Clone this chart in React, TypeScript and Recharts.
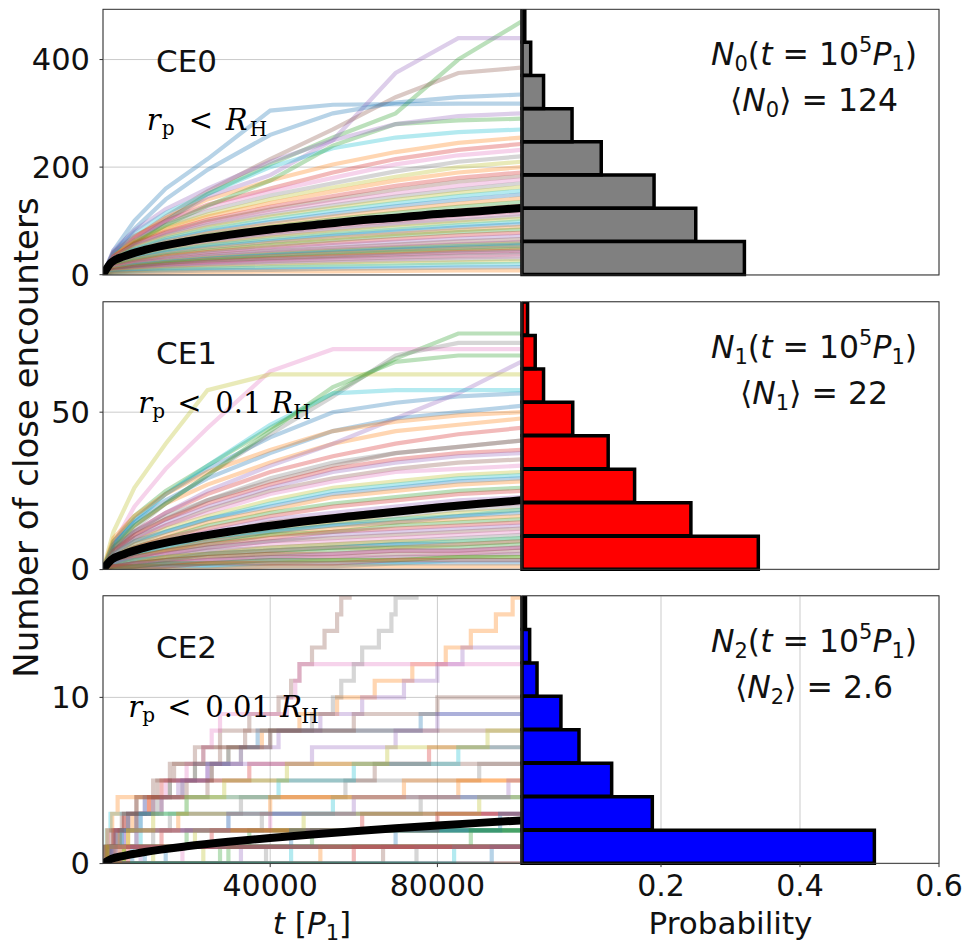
import React from "react";
import {
  LineChart,
  Line,
  BarChart,
  Bar,
  XAxis,
  YAxis,
  CartesianGrid,
} from "recharts";

const FONT = "DejaVu Sans";
const SERIF = "DejaVu Serif";

const TAB10 = [
  "#1f77b4", "#ff7f0e", "#2ca02c", "#d62728", "#9467bd",
  "#8c564b", "#e377c2", "#7f7f7f", "#bcbd22", "#17becf",
];

// sample times of the CE0 / CE1 tracks (every track starts at 0 encounters at t = 0)
const T_GRID = [2500, 7500, 15000, 25000, 40000, 55000, 70000, 85000, 100000];
// sample times of the ensemble-mean curves
const T_MEAN = [0, 2000, 5000, 10000, 20000, 30000, 40000, 50000, 60000, 70000, 80000, 90000, 100000];

// CE0: r_p < R_H, cumulative encounters of each run at T_GRID
const CE0_TRACKS = [
  [45, 100, 160, 215, 305, 316, 317, 318, 318],
  [40, 70, 105, 140, 175, 205, 228, 245, 255],
  [30, 60, 100, 150, 205, 255, 300, 400, 470],
  [42, 72, 100, 130, 160, 190, 215, 232, 243],
  [30, 62, 100, 145, 185, 250, 375, 440, 440],
  [35, 68, 108, 155, 215, 270, 330, 375, 385],
  [40, 68, 98, 125, 155, 180, 205, 222, 232],
  [38, 64, 92, 118, 147, 170, 192, 210, 220],
  [36, 62, 88, 112, 140, 162, 182, 200, 210],
  [42, 78, 115, 150, 200, 235, 255, 265, 270],
  [40, 85, 140, 195, 260, 300, 320, 330, 335],
  [35, 60, 85, 108, 133, 155, 175, 190, 200],
  [30, 58, 92, 128, 175, 240, 280, 287, 290],
  [34, 58, 80, 102, 126, 146, 165, 180, 190],
  [45, 82, 122, 160, 210, 250, 280, 295, 300],
  [33, 56, 78, 99, 121, 140, 158, 173, 183],
  [32, 55, 76, 95, 117, 135, 151, 165, 177],
  [31, 53, 73, 92, 112, 129, 145, 158, 170],
  [30, 50, 70, 88, 108, 124, 139, 152, 163],
  [30, 48, 67, 84, 103, 119, 133, 146, 156],
  [28, 46, 64, 80, 98, 113, 127, 139, 149],
  [27, 44, 61, 77, 94, 108, 121, 132, 142],
  [26, 42, 58, 73, 89, 103, 115, 126, 135],
  [25, 40, 55, 69, 85, 97, 109, 119, 128],
  [23, 38, 52, 66, 81, 93, 104, 114, 122],
  [22, 37, 51, 64, 78, 90, 100, 110, 118],
  [22, 35, 49, 61, 75, 86, 96, 105, 113],
  [21, 34, 47, 59, 72, 83, 93, 101, 109],
  [20, 33, 45, 56, 69, 79, 88, 97, 104],
  [19, 31, 43, 54, 65, 75, 84, 92, 99],
  [18, 29, 41, 51, 62, 72, 80, 88, 94],
  [17, 28, 38, 48, 59, 68, 76, 83, 89],
  [16, 26, 36, 45, 55, 64, 72, 79, 84],
  [15, 24, 34, 42, 51, 59, 66, 73, 78],
  [14, 22, 31, 39, 47, 55, 61, 67, 72],
  [12, 21, 28, 36, 44, 50, 56, 62, 66],
  [13, 20, 26, 33, 40, 47, 52, 57, 61],
  [11, 19, 26, 33, 40, 46, 51, 56, 60],
  [12, 18, 25, 31, 38, 44, 49, 54, 58],
  [9, 18, 24, 30, 37, 43, 48, 53, 56],
  [11, 17, 23, 29, 36, 41, 46, 50, 54],
  [10, 16, 22, 28, 34, 39, 43, 48, 51],
  [8, 15, 21, 26, 31, 36, 41, 45, 48],
  [9, 14, 19, 24, 30, 34, 38, 42, 45],
  [7, 13, 18, 23, 28, 32, 36, 40, 42],
  [8, 12, 16, 20, 25, 29, 32, 35, 38],
  [5, 9, 14, 19, 23, 26, 29, 32, 34],
  [6, 10, 13, 16, 20, 23, 26, 28, 30],
  [5, 8, 11, 13, 16, 19, 21, 23, 25],
  [4, 6, 9, 11, 13, 15, 17, 19, 20],
  [3, 5, 6, 8, 9, 11, 12, 13, 14],
  [2, 3, 4, 5, 6, 6, 7, 8, 8],
];

// CE1: r_p < 0.1 R_H
const CE1_TRACKS = [
  [9, 16, 24, 32, 42, 50, 53, 55, 56],
  [8, 14, 21, 27, 34, 40, 44, 46, 48],
  [9, 17, 25, 33, 45, 56, 67, 75, 75],
  [7, 12, 18, 24, 31, 36, 40, 43, 45],
  [6, 12, 18, 25, 33, 40, 48, 56, 66],
  [6, 11, 16, 22, 28, 33, 37, 39, 41],
  [8, 20, 32, 45, 63, 70, 70, 70, 70],
  [7, 13, 21, 30, 43, 55, 68, 72, 72],
  [12, 26, 40, 57, 62, 62, 62, 62, 62],
  [8, 15, 24, 33, 46, 56, 57, 57, 57],
  [8, 15, 22, 29, 37, 44, 48, 50, 52],
  [10, 17, 24, 31, 38, 44, 47, 49, 50],
  [7, 14, 21, 30, 44, 58, 66, 68, 68],
  [6, 11, 16, 21, 27, 32, 35, 37, 38],
  [5, 10, 15, 20, 26, 31, 34, 36, 37],
  [6, 10, 14, 19, 25, 29, 32, 34, 35],
  [5, 9, 14, 18, 24, 28, 31, 32, 33],
  [7, 12, 17, 22, 29, 34, 37, 39, 41],
  [5, 9, 13, 17, 22, 26, 28, 30, 31],
  [4, 8, 12, 16, 21, 25, 27, 29, 30],
  [5, 9, 12, 16, 20, 24, 26, 28, 29],
  [4, 8, 11, 15, 19, 23, 25, 27, 28],
  [4, 7, 10, 14, 18, 21, 23, 25, 26],
  [4, 7, 10, 13, 17, 20, 22, 24, 25],
  [3, 6, 9, 12, 16, 18, 20, 22, 23],
  [3, 6, 9, 11, 15, 17, 19, 21, 22],
  [3, 6, 8, 11, 14, 16, 18, 20, 21],
  [3, 5, 8, 10, 13, 15, 17, 19, 20],
  [3, 5, 7, 10, 12, 15, 16, 18, 19],
  [2, 5, 7, 9, 12, 14, 16, 17, 19],
  [3, 5, 7, 9, 12, 14, 15, 17, 18],
  [2, 4, 6, 9, 11, 13, 15, 16, 17],
  [2, 4, 6, 8, 11, 12, 14, 15, 16],
  [2, 4, 6, 8, 10, 12, 13, 14, 15],
  [2, 4, 5, 7, 9, 11, 12, 13, 14],
  [2, 3, 5, 7, 9, 10, 11, 12, 13],
  [2, 3, 5, 6, 8, 9, 10, 11, 12],
  [1, 3, 4, 6, 7, 8, 9, 10, 11],
  [1, 3, 4, 5, 7, 8, 9, 9, 10],
  [2, 3, 4, 5, 6, 7, 8, 9, 10],
  [1, 2, 3, 5, 6, 7, 8, 8, 9],
  [1, 2, 4, 5, 6, 7, 7, 8, 9],
  [1, 2, 3, 4, 5, 6, 7, 7, 8],
  [1, 2, 3, 4, 5, 5, 6, 6, 7],
  [1, 2, 2, 3, 4, 5, 6, 6, 7],
  [1, 1, 2, 3, 4, 4, 5, 5, 6],
  [1, 1, 2, 3, 3, 4, 4, 5, 5],
  [0, 1, 2, 2, 3, 3, 4, 4, 5],
  [0, 1, 1, 2, 2, 3, 3, 4, 4],
  [0, 1, 1, 1, 2, 2, 2, 3, 3],
  [0, 0, 1, 1, 1, 1, 2, 2, 2],
  [0, 0, 0, 0, 1, 1, 1, 1, 1],
  [1, 1, 2, 2, 3, 3, 3, 4, 4],
  [1, 1, 1, 2, 2, 2, 3, 3, 3],
];

// CE2: r_p < 0.01 R_H, times of each single encounter per run
const CE2_JUMPS = [
  [3000],
  [1500, 4000, 7000, 11000, 16000, 22000, 30000, 38000, 47000, 56000, 65000, 74000, 82000, 88000, 94000, 98000],
  [800, 20000],
  [],
  [2000, 5000, 8000, 12000, 18000, 25000, 33000, 42000, 52000, 62000, 72000, 80000, 86000],
  [800, 2500, 5000, 8000, 12000, 17000, 22000, 28000, 35000, 42000, 45000, 47000, 50000, 53000, 56000, 57000, 59000],
  [1000, 3000, 6000, 10000, 15000, 20000, 24000, 26000, 28000, 44000, 46000, 47000],
  [1500, 4000, 8000, 13000, 19000, 26000, 33000, 40000, 50000, 55000, 57000, 60000, 62000, 66000, 69000, 70000, 75000],
  [1200],
  [600, 9000, 30000],
  [1000, 3000, 6000, 10000, 16000, 22000, 30000, 37000, 76000],
  [5000],
  [2000, 35000],
  [700, 2500, 5000, 11000, 14000, 35000, 78000],
  [9000],
  [1500, 4000, 8000, 14000, 20000, 26000, 28000, 40000, 60000, 80000],
  [400, 1200, 40000],
  [2000, 8000, 16000, 33000, 58000, 90000],
  [12000],
  [300, 900, 1800, 55000],
  [15000],
  [200, 1000, 2200, 3500, 72000],
  [5000, 50000],
  [1500, 14000, 62000],
  [2000, 5000, 9000, 14000, 19000, 25000, 50000, 70000, 80000],
  [1000, 3000, 6000, 12000, 25000, 65000],
  [19000],
  [2500, 12000, 38000, 76000],
  [24000],
  [1500, 4500, 9000, 20000, 42000, 60000, 85000],
  [10000, 70000],
  [1200, 6000, 18000, 40000, 85000],
  [28000],
  [3000, 26000, 80000],
  [33000],
  [500, 2000, 4500, 8000, 13000, 16000, 24000, 34000],
  [],
  [39000],
  [5000, 22000, 48000, 90000],
  [45000],
  [7000, 45000, 95000],
  [52000],
  [30000, 88000],
  [60000],
  [4000, 8000, 30000, 60000, 97000],
  [67000],
  [],
  [75000],
  [1000, 6000, 12000, 20000, 29000, 44000, 68000, 92000],
  [84000],
  [93000],
  [4000],
  [],
  [6000],
  [2000],
];

// ensemble means at T_MEAN
const CE0_MEAN = [0, 23, 34, 46, 62, 74, 84, 92, 100, 106, 113, 118, 124];
const CE1_MEAN = [0, 3.1, 4.9, 7.0, 9.8, 12.0, 13.9, 15.6, 17.0, 18.4, 19.7, 20.9, 22];
const CE2_MEAN = [0, 0.28, 0.47, 0.7, 1.04, 1.31, 1.54, 1.75, 1.94, 2.12, 2.29, 2.45, 2.6];

// probability of N(t = 1e5 P1) in 8 equal bins, lowest bin first
const CE0_HIST = [0.32, 0.25, 0.19, 0.114, 0.072, 0.031, 0.0125, 0.004];
const CE1_HIST = [0.34, 0.243, 0.162, 0.124, 0.073, 0.031, 0.019, 0.008];
const CE2_HIST = [0.507, 0.1875, 0.129, 0.082, 0.056, 0.0216, 0.011, 0.005];

const T_TICKS = [40000, 80000];
const P_TICKS = [0.2, 0.4, 0.6];

const gridTrack = (vals: number[]) => [
  { t: 0, n: 0 },
  ...T_GRID.map((t, i) => ({ t, n: vals[i] })),
];

const stepTrack = (jumps: number[]) => [
  { t: 0, n: 0 },
  ...jumps.map((t, i) => ({ t, n: i + 1 })),
  { t: 100000, n: jumps.length },
];

const meanTrack = (vals: number[]) => T_MEAN.map((t, i) => ({ t, n: vals[i] }));

// page geometry
const PLOT_X0 = 103;
const SPLIT = 521;
const HIST_X0 = 522;
const PLOT_X1 = 939;
const AXIS_H = 45;

const tickStyle = { fontSize: 30, fill: "#111", fontFamily: FONT };

interface PanelDef {
  top: number;
  h: number;
  yMax: number;
  yTicks: number[];
  tracks: { t: number; n: number }[][];
  step: boolean;
  mean: { t: number; n: number }[];
  hist: number[];
  color: string;
}

const PANELS: PanelDef[] = [
  {
    top: 9.3, h: 265.7, yMax: 494, yTicks: [0, 200, 400],
    tracks: CE0_TRACKS.map(gridTrack), step: false,
    mean: meanTrack(CE0_MEAN), hist: CE0_HIST, color: "#808080",
  },
  {
    top: 301.7, h: 267.6, yMax: 85, yTicks: [0, 50],
    tracks: CE1_TRACKS.map(gridTrack), step: false,
    mean: meanTrack(CE1_MEAN), hist: CE1_HIST, color: "#ff0000",
  },
  {
    top: 595.7, h: 267.6, yMax: 16.1, yTicks: [0, 10],
    tracks: CE2_JUMPS.map(stepTrack), step: true,
    mean: meanTrack(CE2_MEAN), hist: CE2_HIST, color: "#0000ff",
  },
];

const TrackPanel = ({ p, showX }: { p: PanelDef; showX: boolean }) => (
  <div style={{ position: "absolute", left: 0, top: p.top }}>
    <LineChart
      width={SPLIT}
      height={p.h + AXIS_H}
      margin={{ top: 0, right: 0, bottom: 0, left: 0 }}
    >
      <CartesianGrid stroke="#cbcbcb" />
      <XAxis
        type="number"
        dataKey="t"
        domain={[0, 100000]}
        ticks={T_TICKS}
        interval={0}
        allowDataOverflow
        height={AXIS_H}
        axisLine={false}
        tickLine={{ stroke: "#333" }}
        tickSize={3.5}
        tickMargin={8}
        tick={showX ? tickStyle : false}
      />
      <YAxis
        type="number"
        domain={[0, p.yMax]}
        ticks={p.yTicks}
        interval={0}
        allowDataOverflow
        width={PLOT_X0}
        axisLine={false}
        tickLine={{ stroke: "#333" }}
        tickSize={3.5}
        tickMargin={9.5}
        tick={{ ...tickStyle, fontSize: 30.5 }}
      />
      {p.tracks.map((pts, i) => (
        <Line
          key={i}
          data={pts}
          dataKey="n"
          type={p.step ? "stepAfter" : "linear"}
          stroke={TAB10[i % 10]}
          strokeOpacity={0.32}
          strokeWidth={4.2}
          dot={false}
          activeDot={false}
          isAnimationActive={false}
        />
      ))}
      <Line
        data={p.mean}
        dataKey="n"
        type="monotone"
        stroke="#000"
        strokeWidth={8}
        dot={false}
        activeDot={false}
        isAnimationActive={false}
      />
    </LineChart>
  </div>
);

const HistPanel = ({ p, showX }: { p: PanelDef; showX: boolean }) => {
  const rows = p.hist.map((prob, i) => ({ bin: String(i), prob }));
  const yw = 20;
  return (
    <div style={{ position: "absolute", left: HIST_X0 - yw, top: p.top }}>
      <BarChart
        layout="vertical"
        width={yw + (PLOT_X1 - HIST_X0) + 27}
        height={p.h + AXIS_H}
        data={rows}
        margin={{ top: 0, right: 27, bottom: 0, left: 0 }}
        barCategoryGap={0}
        barGap={0}
      >
        <CartesianGrid stroke="#cbcbcb" />
        <XAxis
          type="number"
          domain={[0, 0.6]}
          ticks={P_TICKS}
          interval={0}
          height={AXIS_H}
          axisLine={false}
          tickLine={{ stroke: "#333" }}
          tickSize={3.5}
          tickMargin={8}
          tick={showX ? tickStyle : false}
        />
        <YAxis
          type="number"
          domain={[0, p.yMax]}
          ticks={p.yTicks}
          interval={0}
          width={yw}
          axisLine={false}
          tickLine={{ stroke: "#333" }}
          tickSize={3.5}
          tick={false}
        />
        <YAxis yAxisId="bin" type="category" dataKey="bin" reversed hide />
        <Bar
          yAxisId="bin"
          dataKey="prob"
          fill={p.color}
          stroke="#000"
          strokeWidth={3.5}
          isAnimationActive={false}
        />
      </BarChart>
    </div>
  );
};

const sub = { fontSize: 21 };

// r_p < ... R_H labels; x offsets are relative to the start of the label
const CONDITIONS = [
  { x: 146.7, y: 130, coef: "", dx: [0, 15, 42, 79, 103] },
  { x: 138.3, y: 413.3, coef: "0.1", dx: [0, 14, 39, 77, 133, 155] },
  { x: 128.3, y: 716.7, coef: "0.01", dx: [0, 14, 39, 77, 152, 173] },
];

const Condition = ({ c }: { c: (typeof CONDITIONS)[number] }) => {
  const d = c.dx;
  const rAt = c.coef ? d[4] : d[3];
  const hAt = c.coef ? d[5] : d[4];
  return (
    <text fontFamily={SERIF} fontSize={29} fill="#000">
      <tspan x={c.x + d[0]} y={c.y} fontStyle="italic">r</tspan>
      <tspan x={c.x + d[1]} y={c.y + 5} fontSize={20}>p</tspan>
      <tspan x={c.x + d[2]} y={c.y}>{"<"}</tspan>
      {c.coef && <tspan x={c.x + d[3]} y={c.y}>{c.coef}</tspan>}
      <tspan x={c.x + rAt} y={c.y} fontStyle="italic">R</tspan>
      <tspan x={c.x + hAt} y={c.y + 6} fontSize={20}>H</tspan>
    </text>
  );
};

const MEANS = ["124", "22", "2.6"];

const Overlay = () => (
  <svg
    width={966}
    height={946}
    style={{ position: "absolute", left: 0, top: 0, pointerEvents: "none" }}
  >
    {PANELS.map((p, i) => (
      <g key={i}>
        <rect x={PLOT_X0} y={p.top} width={SPLIT - PLOT_X0} height={p.h} fill="none" stroke="#333" strokeWidth={1} />
        <rect x={HIST_X0} y={p.top} width={PLOT_X1 - HIST_X0} height={p.h} fill="none" stroke="#333" strokeWidth={1} />
        <text x={156} y={p.top + 62.4} fontFamily={FONT} fontSize={31} fill="#111">
          {`CE${i}`}
        </text>
        <text
          x={814}
          y={p.top + 56}
          textAnchor="middle"
          fontFamily={FONT}
          fontSize={31.5}
          fill="#111"
          style={{ whiteSpace: "pre" }}
        >
          <tspan fontStyle="italic">N</tspan>
          <tspan {...sub} dy={6}>{String(i)}</tspan>
          <tspan dy={-6}>(</tspan>
          <tspan fontStyle="italic">t</tspan>
          <tspan>{" = 10"}</tspan>
          <tspan {...sub} dy={-13}>5</tspan>
          <tspan fontStyle="italic" dy={13}>P</tspan>
          <tspan {...sub} dy={6}>1</tspan>
          <tspan dy={-6}>)</tspan>
        </text>
        <text
          x={814}
          y={p.top + 102}
          textAnchor="middle"
          fontFamily={FONT}
          fontSize={31.5}
          fill="#111"
          style={{ whiteSpace: "pre" }}
        >
          <tspan>⟨</tspan>
          <tspan fontStyle="italic">N</tspan>
          <tspan {...sub} dy={6}>{String(i)}</tspan>
          <tspan dy={-6}>{`⟩ = ${MEANS[i]}`}</tspan>
        </text>
      </g>
    ))}
    {CONDITIONS.map((c, i) => (
      <Condition key={i} c={c} />
    ))}
    <text
      transform="translate(38.3, 437.5) rotate(-90)"
      textAnchor="middle"
      fontFamily={FONT}
      fontSize={34}
      fill="#111"
    >
      Number of close encounters
    </text>
    <text x={312} y={934} textAnchor="middle" fontFamily={FONT} fontSize={31} fill="#111" style={{ whiteSpace: "pre" }}>
      <tspan fontStyle="italic">t</tspan>
      <tspan>{" ["}</tspan>
      <tspan fontStyle="italic">P</tspan>
      <tspan {...sub} dy={6}>1</tspan>
      <tspan dy={-6}>]</tspan>
    </text>
    <text x={730.5} y={934} textAnchor="middle" fontFamily={FONT} fontSize={31} fill="#111">
      Probability
    </text>
  </svg>
);

export default function App() {
  return (
    <div
      style={{
        position: "absolute",
        left: 0,
        top: 0,
        width: 966,
        height: 946,
        background: "#fff",
        overflow: "hidden",
      }}
    >
      {PANELS.map((p, i) => (
        <React.Fragment key={i}>
          <TrackPanel p={p} showX={i === PANELS.length - 1} />
          <HistPanel p={p} showX={i === PANELS.length - 1} />
        </React.Fragment>
      ))}
      <Overlay />
    </div>
  );
}
